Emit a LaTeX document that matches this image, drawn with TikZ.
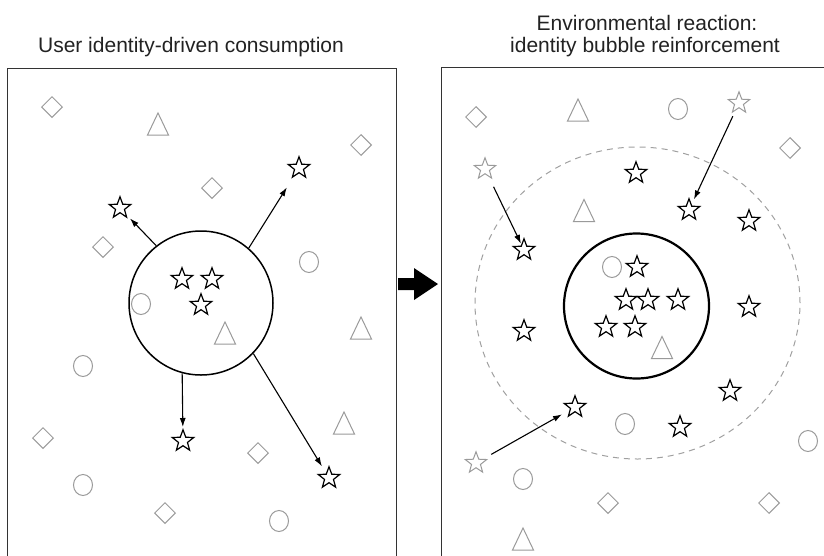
\documentclass[tikz,border=0pt]{standalone}
\usepackage{fontspec}
\setmainfont{Liberation Sans}
\usetikzlibrary{shapes.geometric,arrows.meta}
\definecolor{shapegray}{HTML}{9A9A9A}
\definecolor{titlegray}{HTML}{222222}
\definecolor{boxline}{HTML}{333333}
\definecolor{dashgray}{HTML}{A0A0A0}
\newcommand\mytri[3]{\draw[gshape] (#2-10.5,#3+11) coordinate (#1) -- (#2,#3-11) -- (#2+10.5,#3+11) -- cycle;}
\begin{document}
\begin{tikzpicture}[x=1pt,y=-1pt,
  gshape/.style={draw=shapegray,line width=1pt,inner sep=0pt},
  dia/.style={gshape,diamond,minimum width=21pt,minimum height=21pt},
  circ/.style={gshape,ellipse,minimum width=19pt,minimum height=21pt},
  starb/.style={star,star points=5,star point ratio=2.4,minimum size=22.5pt,inner sep=0pt,draw=black,line width=1.2pt,fill=white},
  starg/.style={starb,draw=shapegray,line width=1pt},
  arr/.style={-{Latex[length=9pt,width=6pt]},line width=1.1pt},
  ttl/.style={font=\fontsize{21}{24}\selectfont,text=titlegray,anchor=base,inner sep=0pt},
  panel/.style={draw=boxline,line width=1pt}
]
\useasboundingbox (0,0) rectangle (824,555);

% titles
\node[ttl] (t1) at (191,52) {User identity-driven consumption};
\node[ttl] (t2a) at (647,30.5) {Environmental reaction:};
\node[ttl] (t2b) at (645,52) {identity bubble reinforcement};

% panels
\draw[panel] (7,556) -- (7,68) -- (396,68) -- (396,556);
\draw[panel] (441,556) -- (441,67) -- (825,67);

% middle arrow
\fill[black] (398,278) -- (414,278) -- (414,268) -- (438,284) -- (414,300) -- (414,290) -- (398,290) -- cycle;

% ---------------- left panel ----------------
\node[dia] (ld1) at (52,107) {};
\node[dia] (ld2) at (361,145) {};
\node[dia] (ld3) at (212,188) {};
\node[dia] (ld4) at (103,247) {};
\node[dia] (ld5) at (43,438) {};
\node[dia] (ld6) at (258,453) {};
\node[dia] (ld7) at (165,513) {};
\mytri{lt1}{158}{124}
\mytri{lt2}{225}{333}
\mytri{lt3}{361}{328}
\mytri{lt4}{344}{423}
\node[circ] (lc1) at (309,262) {};
\node[circ] (lc2) at (141,304) {};
\node[circ] (lc3) at (83,366) {};
\node[circ] (lc4) at (83,485) {};
\node[circ] (lc5) at (279,521) {};

\node[circle,draw=black,line width=1.5pt,minimum size=144pt,inner sep=0pt] (c1) at (201,303) {};

\node[starb] (li1) at (182,279) {};
\node[starb] (li2) at (212,279) {};
\node[starb] (li3) at (201,305) {};
\node[starb] (s1) at (120,208) {};
\node[starb] (s2) at (299,168) {};
\node[starb] (s3) at (183,441) {};
\node[starb] (s4) at (329,478) {};

\draw[arr,shorten >=14.4pt] (c1.128.8) -- (s1.center);
\draw[arr,shorten >=22.8pt] (c1.49.5) -- (s2.center);
\draw[arr,shorten >=14pt] (c1.255.6) -- (s3.center);
\draw[arr,shorten >=13.6pt] (c1.316.1) -- (s4.center);

% ---------------- right panel ----------------
\node[ellipse,draw=dashgray,line width=1pt,dash pattern=on 6pt off 5pt,minimum width=325pt,minimum height=312pt,inner sep=0pt] (bub) at (637.5,303) {};

\node[dia] (rd1) at (476,117) {};
\node[dia] (rd2) at (790,148) {};
\node[dia] (rd3) at (608,503) {};
\node[dia] (rd4) at (769,503) {};
\mytri{rt1}{578}{110}
\mytri{rt2}{584}{210.5}
\mytri{rt3}{662}{347.5}
\mytri{rt4}{523}{539}
\node[circ] (rc1) at (678,109) {};
\node[circ] (rc2) at (612,267) {};
\node[circ] (rc3) at (625,424) {};
\node[circ] (rc4) at (808,441) {};
\node[circ] (rc5) at (523,479) {};

\node[circle,draw=black,line width=2.2pt,minimum size=145pt,inner sep=0pt] (c2) at (636.5,306) {};

\node[starg] (g1) at (739,103) {};
\node[starg] (g2) at (485,169) {};
\node[starg] (g3) at (476,463) {};

\node[starb] (r1) at (636,173) {};
\node[starb] (u1) at (689,210) {};
\node[starb] (r2) at (749,221) {};
\node[starb] (u2) at (524,250) {};
\node[starb] (r3) at (637,267) {};
\node[starb] (r4) at (626,300) {};
\node[starb] (r5) at (648,300) {};
\node[starb] (r6) at (678,300) {};
\node[starb] (r7) at (606,327) {};
\node[starb] (r8) at (635,327) {};
\node[starb] (r9) at (749,307) {};
\node[starb] (r10) at (524,331) {};
\node[starb] (r11) at (730,391) {};
\node[starb] (u3) at (575,407) {};
\node[starb] (r12) at (680,427) {};

\draw[arr,shorten <=14.6pt,shorten >=11.7pt] (g1.center) -- (u1.center);
\draw[arr,shorten <=19.7pt,shorten >=7pt] (g2.center) -- (u2.center);
\draw[arr,shorten <=17.5pt,shorten >=14.9pt] (g3.center) -- (u3.center);
\end{tikzpicture}
\end{document}
